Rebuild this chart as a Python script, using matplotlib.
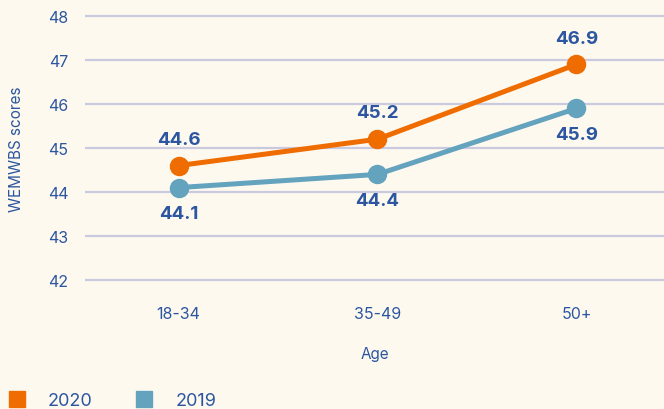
import matplotlib.pyplot as plt
from matplotlib.lines import Line2D

# wellbeing scores by age group
ages = ["18-34", "35-49", "50+"]
scores_2020 = [44.6, 45.2, 46.9]
scores_2019 = [44.1, 44.4, 45.9]
y_ticks = [42, 43, 44, 45, 46, 47, 48]

bg = "#FEF9EF"
orange = "#EE6C00"
teal = "#64A3BD"
navy = "#2C56A0"
grid = "#C9CAE0"

plt.rcParams['font.family'] = ['Inter', 'DejaVu Sans']

fig = plt.figure(figsize=(6.64, 4.10), dpi=100, facecolor=bg)
ax = fig.add_axes([85 / 664, (410 - 283.2) / 410, 1 - 85 / 664, (283.2 - 14.8) / 410])
ax.set_facecolor(bg)

x = list(range(len(ages)))
ax.plot(x, scores_2020, color=orange, lw=3.6, marker='o', ms=13, zorder=3)
ax.plot(x, scores_2019, color=teal, lw=3.6, marker='o', ms=13, zorder=3)

# value labels: 2020 above its points, 2019 below
for xi, v in zip(x, scores_2020):
    ax.annotate(f"{v:.1f}", (xi, v), xytext=(0, 19), textcoords='offset points',
                ha='center', va='center', fontsize=13.5, fontweight='bold', color=navy)
for xi, v in zip(x, scores_2019):
    ax.annotate(f"{v:.1f}", (xi, v), xytext=(0, -19), textcoords='offset points',
                ha='center', va='center', fontsize=13.5, fontweight='bold', color=navy)

ax.set_xlim(-0.47, 2.44)
ax.set_ylim(41.95, 48.05)
ax.set_yticks(y_ticks)
ax.set_xticks(x)
ax.set_xticklabels(ages)
ax.yaxis.grid(True, color=grid, lw=1.6)
ax.set_axisbelow(True)
for s in ax.spines.values():
    s.set_visible(False)
ax.tick_params(axis='both', length=0, colors=navy, labelsize=11.5)
ax.tick_params(axis='y', pad=12)
ax.tick_params(axis='x', pad=17)

ax.set_xlabel("Age", color=navy, fontsize=11, labelpad=18)
ax.set_ylabel("WEMWBS scores", color=navy, fontsize=11, labelpad=17)

handles = [Line2D([], [], ls='none', marker='s', ms=12, color=orange),
           Line2D([], [], ls='none', marker='s', ms=12, color=teal)]
fig.legend(handles, ["2020", "2019"], loc='lower left', bbox_to_anchor=(-0.013, -0.04),
           ncol=2, frameon=False, fontsize=13, labelcolor=navy,
           handletextpad=1.2, columnspacing=2.4, handlelength=1.0)

fig.savefig("out.png", facecolor=bg)
